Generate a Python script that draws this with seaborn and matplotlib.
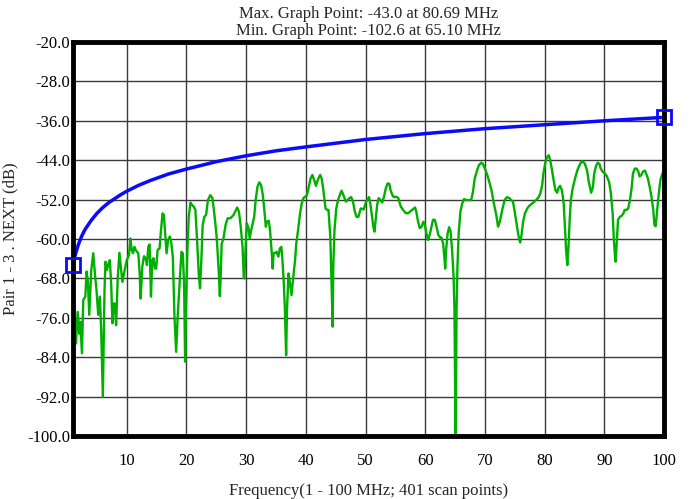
import matplotlib
matplotlib.use("Agg")
import matplotlib.pyplot as plt
import seaborn as sns
import numpy as np

# Measured pair 1-3 NEXT (MHz, dB)
meas_freq = [
    1.0, 1.33, 1.5, 1.78, 2.06, 2.22, 2.5, 2.72, 3.06, 3.28, 3.5, 3.72, 4.06, 4.39, 4.72, 4.94,
    5.22, 5.5, 5.72, 6.0, 6.28, 6.44, 6.67, 6.94, 7.17, 7.39, 7.61, 7.78, 8.0, 8.22, 8.5, 8.78,
    9.06, 9.28, 9.61, 10.0, 10.39, 10.61, 10.83, 11.06, 11.28, 11.5, 11.72, 11.94, 12.17, 12.33,
    12.61, 12.89, 13.17, 13.39, 13.61, 13.83, 14.06, 14.28, 14.5, 14.72, 14.94, 15.17, 15.5,
    15.72, 16.0, 16.22, 16.44, 16.67, 16.94, 17.22, 17.44, 17.72, 18.0, 18.28, 18.56, 18.89,
    19.17, 19.39, 19.61, 19.78, 19.94, 20.17, 20.39, 20.67, 20.94, 21.22, 21.5, 21.78, 22.06,
    22.28, 22.5, 22.72, 23.0,
    23.3, 23.6, 24.0, 24.35, 24.6, 24.9, 25.1, 25.4, 25.6, 25.76, 25.9, 26.2, 26.55, 26.9, 27.3,
    27.6, 27.9, 28.3, 28.5, 28.8, 29.1, 29.4, 29.6, 29.7, 29.94, 30.1, 30.4, 30.6, 30.85, 31.1,
    31.35, 31.6, 31.9, 32.2, 32.5, 32.8, 33.05, 33.3, 33.5, 33.8, 34.0, 34.3, 34.45, 34.6, 34.9,
    35.1, 35.4, 35.65, 35.9, 36.05, 36.3, 36.5, 36.7, 36.85, 37.1, 37.35, 37.6, 37.9, 38.2, 38.4,
    38.7, 39.0, 39.3, 39.6, 39.9, 40.2, 40.5, 40.8, 41.1, 41.5, 41.7, 42.0, 42.4, 42.65, 42.9,
    43.1, 43.3, 43.6, 43.8, 44.1, 44.3, 44.5, 44.6, 44.8, 45.1, 45.4, 45.8, 46.0, 46.3, 46.7,
    47.0, 47.3, 47.6, 47.9, 48.2, 48.5, 48.8,
    49.2, 49.7, 50.1, 50.6, 50.8, 51.1, 51.3, 51.5, 51.7, 51.95, 52.2, 52.5, 52.8, 53.1, 53.4,
    53.7, 54.0, 54.2, 54.5, 54.75, 55.1, 55.5, 55.9, 56.3, 56.7, 57.1, 57.5, 57.9, 58.3, 58.5,
    58.8, 59.1, 59.4, 59.7, 59.9, 60.2, 60.5, 60.8, 61.1, 61.3, 61.6, 61.9, 62.2, 62.5, 62.7,
    63.0, 63.2, 63.35, 63.5, 63.75, 64.0, 64.25, 64.5, 64.75, 64.9, 65.1, 65.25, 65.4, 65.6,
    65.9, 66.2, 66.5, 66.9, 67.3, 67.7, 68.0, 68.3, 68.7, 69.0, 69.4, 69.7,
    70.0, 70.4, 70.8, 71.1, 71.5, 71.9, 72.2, 72.5, 72.9, 73.3, 73.7, 74.1, 74.4, 74.7, 75.0,
    75.3, 75.6, 75.9, 76.1, 76.4, 76.7, 77.1, 77.4, 77.9, 78.3, 78.7, 79.0, 79.3, 79.6, 79.8,
    80.1, 80.4, 80.69, 80.9, 81.2, 81.5, 81.8, 82.1, 82.3, 82.6, 82.9, 83.2, 83.4, 83.6, 83.8,
    84.0, 84.2, 84.4, 84.7, 85.1, 85.5, 86.0, 86.3, 86.7, 87.1, 87.4, 87.8, 88.1, 88.3, 88.6,
    88.9, 89.2, 89.4, 89.7, 90.1, 90.4, 90.8, 91.1, 91.4, 91.6, 91.8, 91.9, 92.1, 92.3, 92.6,
    92.9, 93.2, 93.4, 93.7, 94.0, 94.3, 94.6, 94.8, 95.1, 95.4, 95.7, 95.9, 96.2, 96.5, 96.8,
    97.0, 97.3, 97.6, 97.9, 98.2, 98.4, 98.6, 98.8, 99.1, 99.4, 99.7, 100.0,
]
meas_db = [
    -80.8, -78.8, -81.2, -74.8, -79.2, -76.8, -83.2, -72.4, -71.7, -66.6, -68.7, -75.4, -66.3,
    -62.9, -67.7, -70.4, -75.4, -71.7, -78.5, -92.0, -70.4, -64.6, -66.3, -65.0, -64.3, -69.0,
    -77.1, -73.1, -73.1, -77.5, -67.7, -62.8, -66.3, -68.7, -66.6, -64.3, -63.2, -59.9, -62.2,
    -62.9, -61.6, -62.2, -62.6, -62.9, -67.0, -72.1, -65.6, -63.5, -63.9, -65.3, -61.6, -61.1,
    -71.7, -64.3, -63.9, -66.0, -66.0, -62.2, -61.9, -58.5, -54.8, -55.1, -58.9, -62.9, -60.2,
    -59.5, -60.5, -63.6, -75.8, -82.9, -75.1, -68.3, -62.6, -62.9, -69.0, -84.9, -73.7, -62.2,
    -55.5, -52.6, -53.1, -53.4, -54.1, -60.2, -67.0, -70.0, -64.3, -57.2, -55.5,
    -55.1, -52.1, -51.1, -51.7, -54.1, -57.5, -60.2, -66.3, -71.6, -67.0, -61.0, -59.9, -57.2,
    -55.8, -55.8, -55.5, -55.1, -54.1, -53.6, -54.5, -57.5, -61.6, -67.7, -68.0, -60.9, -56.8,
    -57.8, -59.9, -58.2, -56.8, -55.5, -52.1, -49.4, -48.5, -49.0, -51.1, -54.1, -57.5, -56.5,
    -56.3, -58.2, -62.9, -66.0, -62.9, -62.8, -62.6, -63.6, -61.9, -61.6, -63.6, -68.7, -74.4,
    -83.6, -74.4, -67.0, -69.0, -71.4, -67.7, -64.3, -60.9, -58.2, -55.1, -52.8, -51.7, -51.4,
    -51.1, -49.4, -47.7, -47.0, -48.4, -49.2, -48.0, -47.0, -47.7, -49.7, -51.7, -53.8, -54.1,
    -54.1, -59.5, -69.0, -77.8, -65.6, -58.2, -53.8, -52.1, -50.7, -50.2, -51.1, -52.4, -52.1,
    -51.7, -51.5, -52.4, -54.4, -55.5, -55.5,
    -53.8, -54.0, -52.4, -51.5, -52.8, -55.5, -57.5, -58.5, -56.1, -53.1, -51.7, -52.1, -52.6,
    -51.4, -49.7, -48.7, -48.8, -50.1, -51.1, -51.5, -51.4, -51.7, -53.4, -54.1, -54.7, -54.8,
    -54.4, -54.0, -53.6, -54.4, -56.5, -57.8, -57.5, -56.5, -56.8, -58.9, -60.2, -58.9, -57.2,
    -56.1, -56.1, -57.5, -59.2, -59.7, -59.7, -60.9, -63.6, -66.0, -62.2, -58.9, -57.6, -58.5,
    -62.2, -67.6, -74.4, -102.6, -74.4, -65.6, -58.9, -54.4, -52.8, -51.9, -52.1, -52.1, -52.1,
    -50.4, -47.7, -46.0, -45.0, -44.5, -44.8,
    -45.7, -47.0, -48.7, -50.1, -52.8, -55.1, -57.5, -56.5, -54.1, -52.1, -51.5, -51.7, -52.1,
    -52.4, -54.5, -56.8, -59.2, -60.7, -59.5, -56.5, -54.8, -53.8, -53.3, -52.8, -52.4, -51.95,
    -51.5, -50.7, -49.0, -46.7, -44.6, -43.4, -43.0, -43.8, -45.7, -48.0, -50.1, -50.6, -49.7,
    -49.2, -50.1, -52.8, -57.5, -62.2, -65.3, -61.6, -56.1, -52.1, -49.7, -47.7, -46.0, -44.6,
    -44.2, -44.6, -46.0, -48.4, -50.6, -49.4, -46.8, -45.2, -44.5, -44.8, -45.7, -46.3, -46.7,
    -47.2, -48.4, -50.7, -54.8, -60.2, -63.6, -64.6, -60.2, -56.1, -55.5, -55.3, -54.8, -54.1,
    -54.1, -53.8, -52.1, -49.4, -46.7, -45.7, -45.7, -46.3, -47.3, -47.0, -46.3, -46.1, -46.7,
    -47.7, -49.4, -51.4, -54.1, -57.2, -57.4, -54.8, -51.1, -48.0, -46.8, -46.1,
]

# Limit line (MHz, dB)
limit_freq = [1, 1.25, 1.5, 1.75, 2, 2.5, 3, 4, 5, 6, 7, 8, 9, 10, 12, 14, 17, 20, 25, 30,
              35, 40, 50, 60, 70, 80, 90, 100]
limit_db = [-65.3, -63.8, -62.7, -61.7, -60.8, -59.3, -58.1, -56.3, -54.8, -53.6, -52.6, -51.8,
            -51.0, -50.3, -49.1, -48.1, -46.8, -45.8, -44.3, -43.1, -42.1, -41.3, -39.8, -38.6,
            -37.6, -36.8, -36.0, -35.3]

x_ticks = [10, 20, 30, 40, 50, 60, 70, 80, 90, 100]
y_ticks = [-100, -92, -84, -76, -68, -60, -52, -44, -36, -28, -20]

title_max = "Max. Graph Point: -43.0 at 80.69 MHz"
title_min = "Min. Graph Point: -102.6 at 65.10 MHz"
x_label = "Frequency(1 - 100 MHz; 401 scan points)"
y_label = "Pair 1 - 3 . NEXT (dB)"

sns.set_style("white")
plt.rcParams["font.family"] = ["Liberation Serif", "DejaVu Serif"]
plt.rcParams["font.size"] = 12

fig = plt.figure(figsize=(6.92, 4.99), dpi=100)
W, H = 692, 499
ax = fig.add_axes([73 / W, 1 - 436 / H, (664 - 73) / W, (436 - 42) / H])

sns.lineplot(x=meas_freq, y=meas_db, ax=ax, color="#00b000", linewidth=1.7,
             sort=False, estimator=None, zorder=3)
sns.lineplot(x=limit_freq, y=limit_db, ax=ax, color="#0a0aff", linewidth=2.5,
             sort=False, estimator=None, zorder=4)
ax.plot([limit_freq[0], limit_freq[-1]], [limit_db[0], limit_db[-1]], linestyle="none",
        marker="s", markersize=10, markerfacecolor="none", markeredgecolor="#0a0aff",
        markeredgewidth=2.0, clip_on=False, zorder=6)

ax.set_xlim(1, 100)
ax.set_ylim(-100, -20)
ax.set_xticks(x_ticks)
ax.set_yticks(y_ticks)
ax.set_yticklabels([f"{v:.1f}" for v in y_ticks])
ax.grid(True, color="#3a3a3a", linewidth=1.0, zorder=1)
ax.set_axisbelow(True)
ax.tick_params(axis="both", length=0, labelsize=12, colors="black")
ax.tick_params(axis="y", pad=2)
ax.tick_params(axis="x", pad=12)
for sp in ax.spines.values():
    sp.set_visible(True)
    sp.set_color("black")
    sp.set_linewidth(3.5)
    sp.set_zorder(5)

ax.set_xlabel(x_label, fontsize=12, labelpad=10)
ax.set_ylabel(y_label, fontsize=12, labelpad=6)

cx = (73 + 664) / 2 / W
fig.text(cx, 1 - 14 / H, title_max, ha="center", va="center", fontsize=12)
fig.text(cx, 1 - 31 / H, title_min, ha="center", va="center", fontsize=12)

fig.savefig("out.png", dpi=100)
